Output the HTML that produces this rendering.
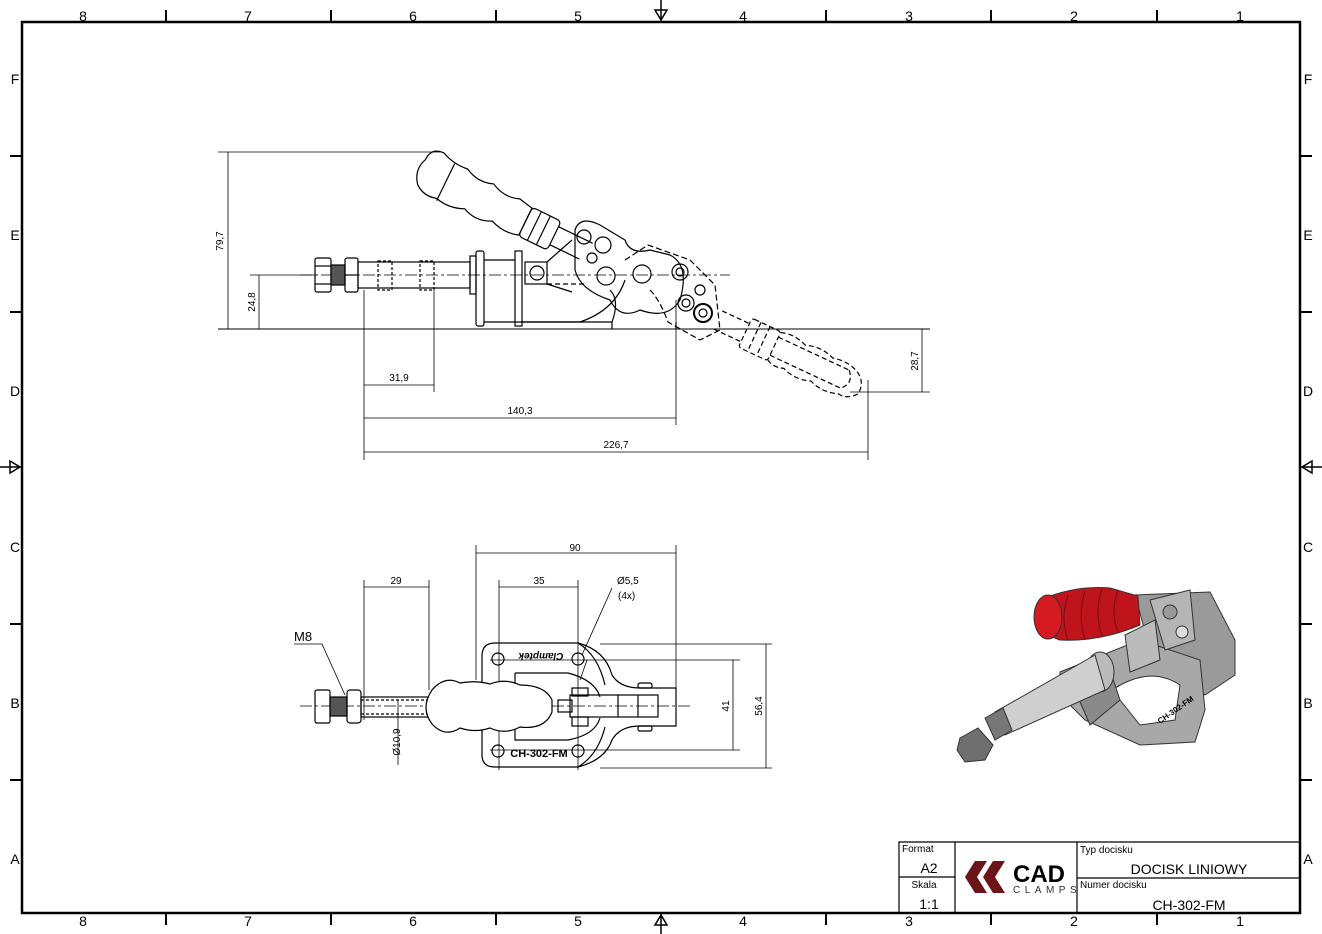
<!DOCTYPE html>
<html><head><meta charset="utf-8"><style>
html,body{margin:0;padding:0;background:#fff;}
svg{display:block;font-family:"Liberation Sans",sans-serif;}
</style></head><body>
<svg width="1322" height="934" viewBox="0 0 1322 934" xmlns="http://www.w3.org/2000/svg">
<rect width="1322" height="934" fill="#fff"/>
<rect x="22" y="22" width="1278" height="891" fill="none" stroke="#000" stroke-width="2.5"/>
<g stroke="#000" stroke-width="2">
<line x1="166" y1="10" x2="166" y2="22"/><line x1="331" y1="10" x2="331" y2="22"/><line x1="496" y1="10" x2="496" y2="22"/><line x1="826" y1="10" x2="826" y2="22"/><line x1="991" y1="10" x2="991" y2="22"/><line x1="1157" y1="10" x2="1157" y2="22"/>
<line x1="166" y1="913" x2="166" y2="925"/><line x1="331" y1="913" x2="331" y2="925"/><line x1="496" y1="913" x2="496" y2="925"/><line x1="826" y1="913" x2="826" y2="925"/><line x1="991" y1="913" x2="991" y2="925"/><line x1="1157" y1="913" x2="1157" y2="925"/>
<line x1="10" y1="156" x2="22" y2="156"/><line x1="10" y1="312" x2="22" y2="312"/><line x1="10" y1="624" x2="22" y2="624"/><line x1="10" y1="780" x2="22" y2="780"/>
<line x1="1300" y1="156" x2="1312" y2="156"/><line x1="1300" y1="312" x2="1312" y2="312"/><line x1="1300" y1="624" x2="1312" y2="624"/><line x1="1300" y1="780" x2="1312" y2="780"/>
</g>
<g stroke="#000" stroke-width="1.5" fill="none">
<path d="M661 0 V22 M655 10 L661 20 L667 10 Z"/>
<path d="M661 934 V913 M655 925 L661 915 L667 925 Z"/>
<path d="M0 467 H22 M10 461 L20 467 L10 473 Z"/>
<path d="M1322 467 H1300 M1312 461 L1302 467 L1312 473 Z"/>
</g>
<g font-size="14" text-anchor="middle" fill="#000">
<text x="83" y="21">8</text><text x="248" y="21">7</text><text x="413" y="21">6</text><text x="578" y="21">5</text><text x="743" y="21">4</text><text x="909" y="21">3</text><text x="1074" y="21">2</text><text x="1240" y="21">1</text>
<text x="83" y="926">8</text><text x="248" y="926">7</text><text x="413" y="926">6</text><text x="578" y="926">5</text><text x="743" y="926">4</text><text x="909" y="926">3</text><text x="1074" y="926">2</text><text x="1240" y="926">1</text>
<text x="15" y="84">F</text><text x="15" y="240">E</text><text x="15" y="396">D</text><text x="15" y="552">C</text><text x="15" y="708">B</text><text x="15" y="864">A</text>
<text x="1308" y="84">F</text><text x="1308" y="240">E</text><text x="1308" y="396">D</text><text x="1308" y="552">C</text><text x="1308" y="708">B</text><text x="1308" y="864">A</text>
</g>

<!-- title block -->
<g stroke="#000" fill="none">
<path d="M899 913 V842 H1300" stroke-width="1.2"/>
<line x1="955" y1="842" x2="955" y2="913" stroke-width="1.2"/>
<line x1="1077" y1="842" x2="1077" y2="913" stroke-width="1.2"/>
<line x1="899" y1="877" x2="955" y2="877" stroke-width="1.2"/>
<line x1="1077" y1="878" x2="1300" y2="878" stroke-width="1.2"/>
</g>
<g fill="#000">
<text x="902" y="852" font-size="10">Format</text>
<text x="929" y="873" font-size="14" text-anchor="middle">A2</text>
<text x="924" y="888" font-size="10" text-anchor="middle">Skala</text>
<text x="929" y="909" font-size="14" text-anchor="middle">1:1</text>
<text x="1080" y="853" font-size="10">Typ docisku</text>
<text x="1189" y="874" font-size="14" text-anchor="middle">DOCISK LINIOWY</text>
<text x="1080" y="888" font-size="10">Numer docisku</text>
<text x="1189" y="910" font-size="14" text-anchor="middle">CH-302-FM</text>
<path d="M975 861 L987 861 L977 877 L987 893 L975 893 L965 877 Z M993 861 L1005 861 L995 877 L1005 893 L993 893 L983 877 Z" fill="#6b1518"/>
<text x="1013" y="882" font-size="24" font-weight="bold">CAD</text>
<text x="1013" y="893" font-size="10" letter-spacing="4.5" fill="#333">CLAMPS</text>
</g>

<!-- TOP VIEW dims -->
<g stroke="#000" stroke-width="0.8" fill="none">
<line x1="218" y1="329" x2="930" y2="329" stroke-width="1"/>
<line x1="218" y1="152" x2="440" y2="152"/>
<line x1="228" y1="152" x2="228" y2="329"/>
<line x1="250" y1="275" x2="318" y2="275"/>
<line x1="259" y1="275" x2="259" y2="329"/>
<line x1="850" y1="392" x2="930" y2="392"/>
<line x1="922" y1="329" x2="922" y2="392"/>
<line x1="364" y1="290" x2="364" y2="460"/>
<line x1="434" y1="290" x2="434" y2="392"/>
<line x1="676" y1="300" x2="676" y2="425"/>
<line x1="868" y1="380" x2="868" y2="460"/>
<line x1="364" y1="385" x2="434" y2="385"/>
<line x1="364" y1="418" x2="676" y2="418"/>
<line x1="364" y1="452" x2="868" y2="452"/>
<line x1="300" y1="275" x2="730" y2="275" stroke-dasharray="12 3 3 3"/>
</g>
<g fill="#000" font-size="10">
<text x="399" y="381" text-anchor="middle">31,9</text>
<text x="520" y="414" text-anchor="middle">140,3</text>
<text x="616" y="448" text-anchor="middle">226,7</text>
<text transform="translate(223,241) rotate(-90)" text-anchor="middle">79,7</text>
<text transform="translate(255,302) rotate(-90)" text-anchor="middle">24,8</text>
<text transform="translate(918,361) rotate(-90)" text-anchor="middle">28,7</text>
</g>
<!-- TOP VIEW part -->
<g stroke="#000" stroke-width="1.2" fill="none">
<rect x="315" y="258" width="16" height="34" rx="2"/>
<line x1="315" y1="266" x2="331" y2="266"/><line x1="315" y1="284" x2="331" y2="284"/>
<rect x="331" y="265" width="14" height="20" fill="#555"/>
<rect x="345" y="258" width="13" height="34" rx="2"/>
<line x1="345" y1="275" x2="358" y2="275"/>
<rect x="358" y="262" width="112" height="26"/>
<rect x="378" y="261" width="14" height="29" stroke-dasharray="3 2"/>
<rect x="420" y="261" width="14" height="29" stroke-dasharray="3 2"/>
<rect x="470" y="256" width="6" height="38"/>
<rect x="476" y="251" width="8" height="75" rx="2"/>
<rect x="515" y="251" width="7" height="75"/>
<path d="M484 260 H515 M484 322 H580 L612 322 Q620 300 610 290"/>
<path d="M522 322 H580 Q615 310 625 280"/>
<rect x="525" y="262" width="22" height="22"/><circle cx="537" cy="273" r="7"/>
<path d="M547 284 H585" stroke-dasharray="5 3"/>
<path d="M547 262 L572 240 M547 284 L572 292"/>
<path d="M575 230 Q580 215 600 225 L625 240 Q630 255 650 250 L670 255 Q690 265 680 300 Q668 320 640 310 Q620 320 610 300 Q580 290 575 270 Z"/>
<circle cx="584" cy="237" r="7"/><circle cx="603" cy="245" r="8"/><circle cx="592" cy="258" r="5"/><circle cx="606" cy="276" r="9"/><circle cx="642" cy="274" r="9"/>
<circle cx="680" cy="272" r="8"/><circle cx="680" cy="272" r="4"/>
<circle cx="686" cy="303" r="8"/><circle cx="686" cy="303" r="4"/>
<circle cx="703" cy="313" r="9" stroke-width="2"/><circle cx="703" cy="313" r="4"/>
<circle cx="700" cy="290" r="5"/>
<path d="M625 260 L648 245 L690 260 L715 285 L720 330 L700 340 L668 322 Q660 300 650 290" stroke-dasharray="6 3"/>
<line x1="612" y1="322" x2="612" y2="329"/><line x1="676" y1="322" x2="676" y2="329"/>
<!-- upper handle -->
<g transform="translate(440,180) rotate(26)">
<path d="M-22 -12 Q-22 -26 -8 -26 Q5 -20 20 -22 Q35 -14 50 -20 Q65 -12 80 -18 L95 -15 L95 15 Q80 20 65 14 Q50 22 35 15 Q20 22 5 18 Q-8 22 -18 14 Q-28 2 -22 -12 Z"/>
<line x1="6" y1="-21" x2="6" y2="20"/>
<rect x="95" y="-16" width="32" height="32" rx="4"/>
<line x1="105" y1="-16" x2="105" y2="16"/><line x1="115" y1="-16" x2="115" y2="16"/>
<path d="M127 -10 L165 -10 M127 10 L160 10"/>
</g>
<!-- lower dashed handle -->
<g transform="translate(718,320) rotate(25)" stroke-dasharray="5 3">
<path d="M0 -10 L30 -10 M0 10 L30 10"/>
<rect x="30" y="-16" width="32" height="32" rx="3"/>
<line x1="40" y1="-16" x2="40" y2="16"/><line x1="50" y1="-16" x2="50" y2="16"/>
<path d="M62 -15 Q75 -20 90 -14 Q105 -20 120 -14 Q135 -18 148 -12 Q160 -5 158 8 Q150 18 140 16 Q125 22 110 16 Q95 22 80 16 Q70 20 62 15"/>
<path d="M62 -10 L140 -10 M62 10 L140 10"/>
<path d="M140 -10 Q150 0 140 10"/>
</g>
</g>

<!-- BOTTOM VIEW dims -->
<g stroke="#000" stroke-width="0.8" fill="none">
<line x1="476" y1="545" x2="476" y2="680"/><line x1="676" y1="545" x2="676" y2="690"/>
<line x1="476" y1="553" x2="676" y2="553"/>
<line x1="364" y1="580" x2="364" y2="720"/><line x1="429" y1="580" x2="429" y2="690"/>
<line x1="364" y1="587" x2="429" y2="587"/>
<line x1="499" y1="580" x2="499" y2="770"/><line x1="578" y1="580" x2="578" y2="770"/>
<line x1="499" y1="587" x2="578" y2="587"/>
<line x1="600" y1="644" x2="772" y2="644"/><line x1="600" y1="768" x2="772" y2="768"/>
<line x1="766" y1="644" x2="766" y2="768"/>
<line x1="490" y1="660" x2="740" y2="660"/><line x1="490" y1="750" x2="740" y2="750"/>
<line x1="733" y1="660" x2="733" y2="750"/>
<line x1="398" y1="700" x2="398" y2="765"/>
<path d="M294 644 L322 644 L345 695"/>
<path d="M612 588 L582 655 M587 660 L580 680"/>
<line x1="300" y1="706" x2="690" y2="706" stroke-dasharray="12 3 3 3"/>
</g>
<g fill="#000" font-size="10">
<text x="575" y="551" text-anchor="middle">90</text>
<text x="396" y="584" text-anchor="middle">29</text>
<text x="539" y="584" text-anchor="middle">35</text>
<text x="617" y="584">Ø5,5</text>
<text x="618" y="599">(4x)</text>
<text x="294" y="641" font-size="13">M8</text>
<text transform="translate(729,706) rotate(-90)" text-anchor="middle">41</text>
<text transform="translate(762,706) rotate(-90)" text-anchor="middle">56,4</text>
<text transform="translate(400,742) rotate(-90)" text-anchor="middle">Ø10,9</text>
</g>
<g stroke="#000" stroke-width="1.2" fill="none">
<rect x="315" y="690" width="15" height="33" rx="2"/>
<rect x="330" y="697" width="17" height="19" fill="#555"/>
<rect x="347" y="690" width="14" height="33" rx="3"/>
<rect x="361" y="697" width="68" height="20"/>
<path d="M361 700 H430 M361 714 H430" stroke-dasharray="3 2"/>
<path d="M482 656 Q482 643 495 643 H578 Q605 650 612 675 Q620 688 640 688 H676 V726 H640 Q620 726 612 740 Q605 760 578 767 H495 Q482 767 482 755 Z"/>
<path d="M515 673 H568 Q595 680 600 697 M515 673 V740 H568 Q595 735 600 718"/>
<path d="M578 643 Q598 655 605 685 M578 767 Q598 755 605 727"/>
<circle cx="498" cy="659" r="6"/><circle cx="578" cy="659" r="6"/><circle cx="498" cy="751" r="6"/><circle cx="578" cy="751" r="6"/>
<path d="M432 690 Q445 675 460 683 Q475 680 490 684 Q505 678 520 685 Q545 685 552 700 L552 712 Q545 730 520 727 Q505 735 490 728 Q475 733 460 728 Q445 738 432 724 Q420 708 432 690 Z" fill="#fff"/>
<rect x="570" y="695" width="88" height="22"/>
<rect x="558" y="700" width="14" height="12"/>
<rect x="572" y="688" width="16" height="8"/><rect x="572" y="717" width="16" height="9"/>
<line x1="618" y1="695" x2="618" y2="717"/><line x1="638" y1="695" x2="638" y2="717"/>
<rect x="638" y="683" width="14" height="5" rx="2"/><rect x="638" y="726" width="14" height="5" rx="2"/>
</g>
<text x="539" y="757" font-size="11" font-weight="bold" text-anchor="middle" fill="#000">CH-302-FM</text>
<text transform="translate(541,653) rotate(180)" font-size="10" font-style="italic" font-weight="bold" text-anchor="middle" fill="#000">Clamptek</text>

<!-- 3D render -->
<g stroke="#333" stroke-width="1">
<path d="M1135 595 L1210 592 L1235 640 L1235 675 L1205 695 L1150 650 Z" fill="#9a9a9a"/>
<path d="M1060 672 L1140 640 L1200 660 L1205 710 L1195 742 L1140 745 L1085 720 L1060 695 Z" fill="#a8a8a8"/>
<path d="M1112 690 Q1150 665 1180 685 L1175 720 L1140 725 Z" fill="#fff"/>
<path d="M1075 690 L1110 670 L1120 700 L1090 725 Z" fill="#8a8a8a"/>
<path d="M1150 600 L1190 590 L1195 640 L1165 650 Z" fill="#b5b5b5"/>
<circle cx="1170" cy="612" r="7" fill="#999"/><circle cx="1182" cy="632" r="6" fill="#ddd"/>
<path d="M1040 600 Q1075 585 1110 588 L1138 596 L1140 625 Q1100 642 1060 640 Q1030 630 1040 600 Z" fill="#c0141c"/>
<ellipse cx="1048" cy="617" rx="14" ry="22" fill="#d61a22"/>
<path d="M1068 595 Q1060 618 1068 640 M1085 591 Q1077 615 1085 640 M1102 589 Q1094 613 1102 636 M1118 590 Q1110 612 1118 632" fill="none" stroke="#7a0a0e"/>
<path d="M1125 635 L1155 620 L1160 660 L1130 672 Z" fill="#bbb"/>
<ellipse cx="1100" cy="672" rx="14" ry="20" fill="#bbb"/>
<path d="M1095 655 L995 712 L1005 735 L1105 690 Z" fill="#cfcfcf"/>
<path d="M985 718 L1003 708 L1012 730 L995 740 Z" fill="#777"/>
<path d="M960 738 L978 728 L993 745 L985 760 L965 762 L957 750 Z" fill="#6f6f6f"/>
<text x="1160" y="724" font-size="8" font-weight="bold" fill="#000" stroke="none" transform="rotate(-35 1160 724)">CH-302-FM</text>
</g>
</svg>
</body></html>
